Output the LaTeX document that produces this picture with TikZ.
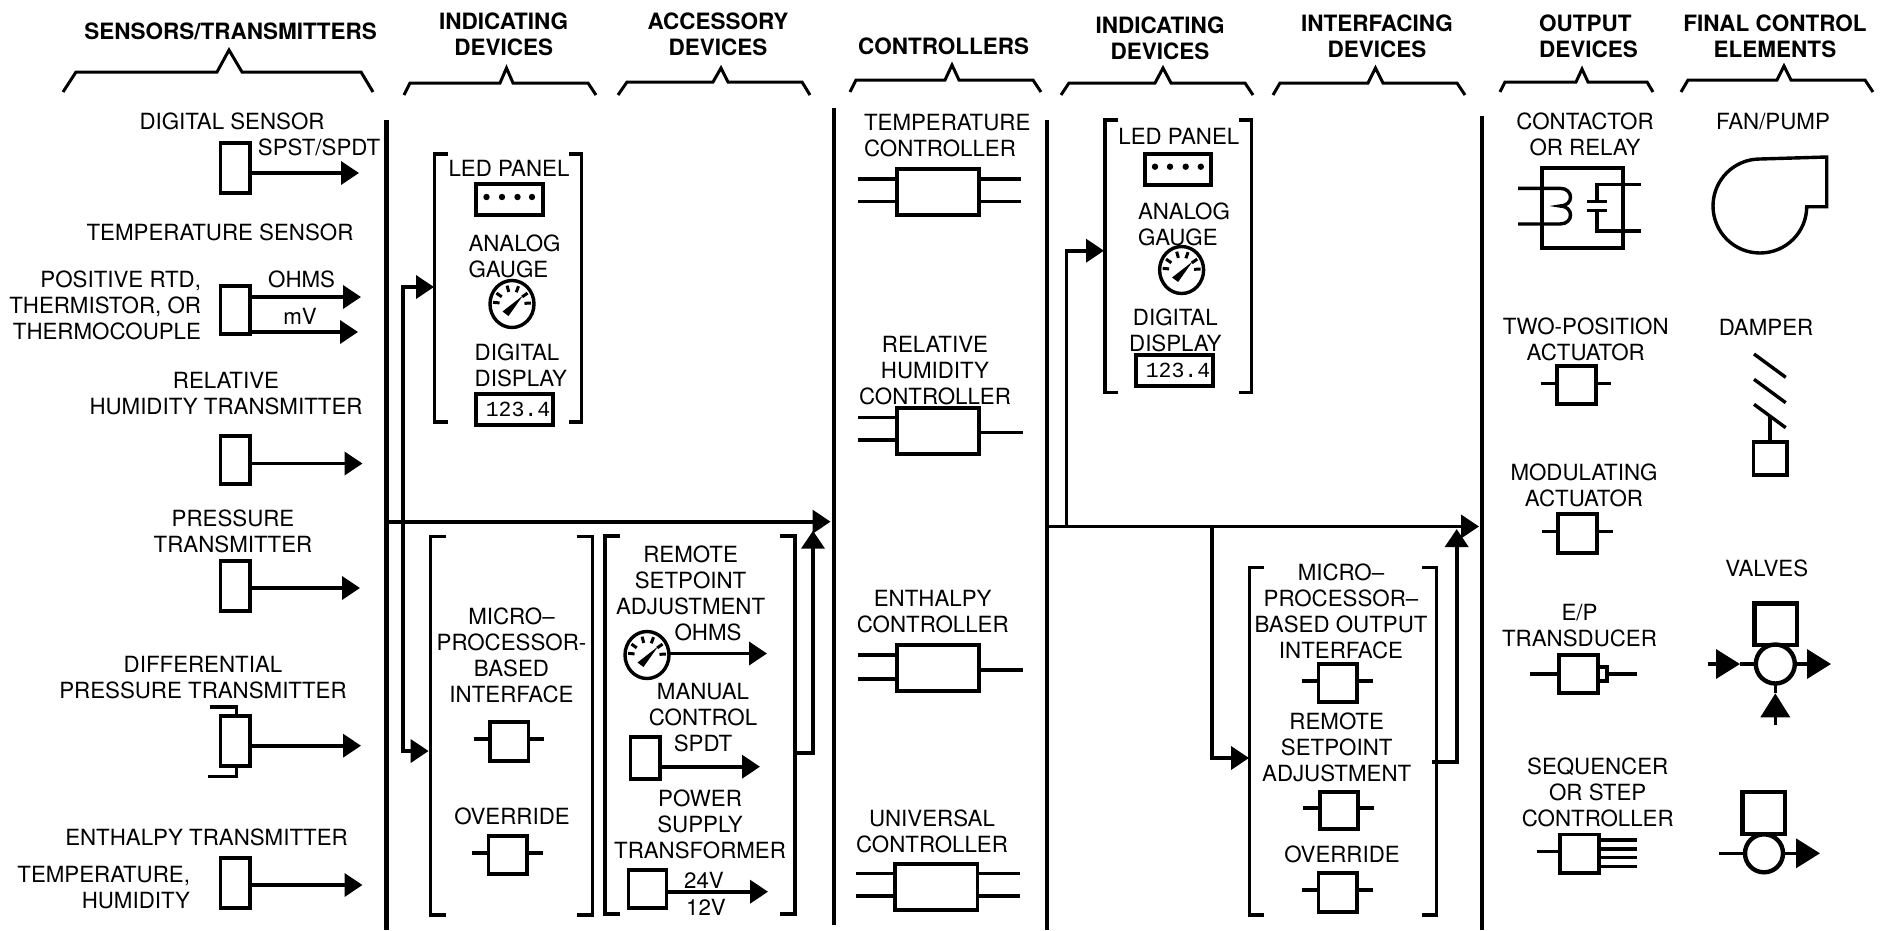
\documentclass[tikz,border=0pt]{standalone}
\usepackage{fontspec}
\setmainfont{TeX Gyre Heros}
\newfontfamily\monof{Liberation Mono}
\usetikzlibrary{arrows.meta,calc,shapes.geometric}
\newcounter{ends}
\tikzset{
  lab/.style={inner sep=0pt,outer sep=0pt,align=center,yshift=-1pt,font=\fontsize{22.3}{26}\selectfont},
  labl/.style={lab,align=left,anchor=west},
  labr/.style={lab,align=right,anchor=east},
  head/.style={inner sep=0pt,outer sep=0pt,align=center,font=\fontsize{22.5}{26}\selectfont\bfseries},
  bx/.style={draw,line width=3.6pt,inner sep=0pt,outer sep=0pt,fill=white,rectangle},
  wire/.style={line width=3.4pt},
  flow/.style={line width=3.8pt,-{Triangle[length=18pt,width=23pt]}},
  bigflow/.style={line width=3.6pt,-{Triangle[length=24pt,width=29pt]}},
  busline/.style={line width=4.4pt,line join=miter},
  brk/.style={line width=3.2pt,line join=miter},
  brace/.style={line width=3pt,line join=miter},
  ring/.style={draw,circle,line width=4.4pt,inner sep=0pt,outer sep=0pt,fill=white},
  gaugec/.style={draw,ellipse,line width=3.4pt,inner sep=0pt,outer sep=0pt,minimum width=44pt,minimum height=47pt}
}
\newcommand\freept[2]{\stepcounter{ends}\coordinate (e\theends) at (#1,#2);}
\newcommand\bxn[6][]{\node[bx,minimum width={(#5-#3)*1pt},minimum height={(#6-#4)*1pt},#1] (#2) at ({(#3+#5)/2},{(#4+#6)/2}) {};}
\newcommand\wirew[3]{\freept{#2}{#3}\draw[wire] (e\theends) -- (e\theends -| #1.west);}
\newcommand\wiree[3]{\freept{#2}{#3}\draw[wire] (e\theends -| #1.east) -- (e\theends);}
\newcommand\arre[3]{\freept{#2}{#3}\draw[flow] (e\theends -| #1.east) -- (e\theends);}
\newcommand\act[8]{\bxn{#1}{#2}{#3}{#4}{#5}\wirew{#1}{#6}{#8}\wiree{#1}{#7}{#8}}
\newcommand\gaugeat[3]{\node[gaugec] (#1) at (#2,#3) {};
 \begin{scope}[shift={(#1.center)}]
  \foreach \a in {-175,-145,-105,-70,-35,-3}{\draw[line width=3pt] (\a:12.5) -- (\a:19);}
  \fill (-9.5,7.5) -- (-3.5,12) -- (11,-8.5) -- cycle;
 \end{scope}}
\begin{document}
\begin{tikzpicture}[x=1pt,y=-1pt]
\useasboundingbox (0,0) rectangle (1887,930);

% headers
\node[head] (h1) at (230.6,31.5) {SENSORS/TRANSMITTERS};
\node[head] (h2) at (503.7,34) {INDICATING\\DEVICES};
\node[head] (h3) at (718,34) {ACCESSORY\\DEVICES};
\node[head] (h4) at (943.7,46) {CONTROLLERS};
\node[head] (h5) at (1160,38.5) {INDICATING\\DEVICES};
\node[head] (h6) at (1377,36) {INTERFACING\\DEVICES};
\node[head,align=left,anchor=west] (h7) at (1539,36) {OUTPUT\\DEVICES};
\node[head] (h8) at (1775,36) {FINAL CONTROL\\ELEMENTS};

% braces
\draw[brace] (63,92)--(76,72)--(217,72)--(229,50)--(242,72)--(361,72)--(373,92);
\draw[brace] (404,95)--(410,83)--(500,83)--(506.5,68)--(513,83)--(588,83)--(596,95);
\draw[brace] (618,95)--(627,82)--(713,82)--(721,68)--(728,82)--(802,82)--(810,95);
\draw[brace] (850,92)--(856,80)--(945,80)--(952,65)--(959,80)--(1033,80)--(1041,92);
\draw[brace] (1061,95)--(1069,83)--(1155,83)--(1163,68)--(1171,83)--(1245,83)--(1253,95);
\draw[brace] (1273,95)--(1280,83)--(1368,83)--(1375.5,68)--(1383,83)--(1457,83)--(1465,95);
\draw[brace] (1500,92)--(1505,82)--(1576,82)--(1582,69)--(1588,82)--(1647,82)--(1653,92);
\draw[brace] (1681,92)--(1688,80)--(1777,80)--(1784,66)--(1791,80)--(1865,80)--(1873,92);

% main vertical lines
\coordinate (v1t) at (386.5,120); \coordinate (v1b) at (386.5,930);
\coordinate (v2t) at (834,108);   \coordinate (v2b) at (834,925);
\coordinate (v3t) at (1047,120);  \coordinate (v3b) at (1047,930);
\coordinate (v4t) at (1482,116);  \coordinate (v4b) at (1482,930);
\draw[busline] (v1t)--(v1b);
\draw[busline] (v2t)--(v2b);
\draw[busline] (v3t)--(v3b);
\draw[busline] (v4t)--(v4b);

% sensors column
\node[lab] (t1) at (232,120.7) {DIGITAL SENSOR};
\node[lab] (t2) at (319,146.7) {SPST/SPDT};
\bxn{s1}{220.4}{143}{250}{193}
\arre{s1}{359}{173}
\node[lab] (t3) at (220,231.7) {TEMPERATURE SENSOR};
\node[labr] (t4) at (201,304.5) {POSITIVE RTD,\\THERMISTOR, OR\\THERMOCOUPLE};
\bxn{s2}{220.4}{285.7}{250}{334}
\node[lab] (t5) at (301.6,278) {OHMS};
\arre{s2}{361}{297}
\node[lab] (t6) at (300,315) {mV};
\arre{s2}{358}{332}
\node[lab] (t7) at (226,393) {RELATIVE\\HUMIDITY TRANSMITTER};
\bxn{s3}{220.4}{435.7}{250}{484}
\arre{s3}{362.5}{463.5}
\node[lab] (t8) at (233,530.5) {PRESSURE\\TRANSMITTER};
\bxn{s4}{220.4}{561}{250}{611}
\arre{s4}{360}{588}
\node[lab] (t9) at (203,676.5) {DIFFERENTIAL\\PRESSURE TRANSMITTER};
\bxn{s5}{220.4}{716}{250}{765.7}
\arre{s5}{361}{745.7}
\coordinate (p1) at (210,707); \coordinate (p2) at (208,776.7);
\coordinate (p1k) at (236.7,707); \coordinate (p2k) at (236.7,776.7);
\draw[wire] (p1) -- (p1k) -- (p1k |- s5.north);
\draw[wire] (p2) -- (p2k) -- (p2k |- s5.south);
\node[lab] (t10) at (206.5,836.7) {ENTHALPY TRANSMITTER};
\node[labr] (t11) at (190,887) {TEMPERATURE,\\HUMIDITY};
\bxn{s6}{220.4}{858}{250}{908}
\arre{s6}{362.5}{885}

% bus 1
\coordinate (b1s) at (386.5,521.7); \coordinate (b1e) at (830.6,521.7);
\draw[flow] (b1s) -- (b1e);
\coordinate (b1a) at (403,287); \coordinate (b1b) at (403,751);
\coordinate (g1in) at (434,287); \coordinate (m1in) at (428.6,751);
\draw[flow,line join=miter] (b1a |- b1s) -- (b1a) -- (g1in);
\draw[flow,line join=miter] (b1a |- b1s) -- (b1b) -- (m1in);
\coordinate (a1o) at (795,753); \coordinate (a1k) at (813,753); \coordinate (a1t) at (813,530.7);
\draw[flow,line join=miter] (a1o) -- (a1k) -- (a1t);

% indicating devices 1
\draw[brk] (448,154)--(434.7,154)--(434.7,422)--(448,422);
\draw[brk] (569.4,154)--(581.6,154)--(581.6,422)--(569.4,422);
\node[lab] (t12) at (509,167.7) {LED PANEL};
\bxn{led1}{476}{184}{543}{215}
\foreach \x in {486.5,502,517.5,532}{\fill (\x,197) circle[radius=3.2pt];}
\node[labl] (t13) at (468.6,255) {ANALOG\\GAUGE};
\gaugeat{g1}{512}{304}
\node[labl] (t14) at (474.7,364) {DIGITAL\\DISPLAY};
\node[bx,minimum width=77pt,minimum height=31pt,font=\monof\fontsize{21.5}{26}\selectfont] (d1) at (514.5,409.5) {\hspace{7pt}123.4};

% micro interface bracket
\draw[brk] (445.7,536.7)--(430.6,536.7)--(430.6,915)--(445.7,915);
\draw[brk] (576.7,536.7)--(592.6,536.7)--(592.6,915)--(576.7,915);
\node[lab] (t15) at (511.5,654.5) {MICRO--\\PROCESSOR-\\BASED\\INTERFACE};
\act{m1}{490}{722}{528.6}{761}{473.5}{544}{739}
\node[lab] (t16) at (512,815) {OVERRIDE};
\act{m2}{488.6}{835.7}{527}{874}{472}{543}{853}

% accessory bracket
\draw[brk] (620,536)--(605,536)--(605,914)--(620,914);
\draw[brk] (779.6,536)--(795,536)--(795,914)--(779.6,914);
\node[lab] (t17) at (690.6,579) {REMOTE\\SETPOINT\\ADJUSTMENT};
\node[lab] (t18) at (708,631.7) {OHMS};
\gaugeat{g2}{647}{655}
\coordinate (g2t) at (767,653.5);
\draw[flow] (g2t -| g2.east) -- (g2t);
\node[lab] (t19) at (703,717) {MANUAL\\CONTROL\\SPDT};
\bxn{c1}{630.6}{736.7}{660}{779}
\arre{c1}{760}{766.7}
\node[lab] (t20) at (700,823) {POWER\\SUPPLY\\TRANSFORMER};
\bxn{c2}{628.6}{870}{666.5}{908}
\node[lab] (t21) at (704,879) {24V};
\arre{c2}{768}{891.7}
\node[lab] (t22) at (706,906.7) {12V};

% controllers
\node[labl] (t23) at (864,135) {TEMPERATURE\\CONTROLLER};
\bxn{k1}{896.7}{169}{978.8}{215}
\wirew{k1}{858}{179}\wirew{k1}{858}{201.7}\wiree{k1}{1021}{179}\wiree{k1}{1021}{201.7}
\node[lab] (t24) at (935,369.3) {RELATIVE\\HUMIDITY\\CONTROLLER};
\bxn{k2}{896.7}{408}{978.8}{454}
\wirew{k2}{858}{417.7}\wirew{k2}{858}{440}\wiree{k2}{1023}{432.7}
\node[lab] (t25) at (932.7,611) {ENTHALPY\\CONTROLLER};
\bxn{k3}{896.7}{645}{978.8}{690.7}
\wirew{k3}{858}{655}\wirew{k3}{858}{679}\wiree{k3}{1023}{670}
\node[lab] (t26) at (932,830) {UNIVERSAL\\CONTROLLER};
\bxn{k4}{894.7}{864}{977.6}{910}
\wirew{k4}{856}{873.7}\wirew{k4}{856}{896}\wiree{k4}{1019.6}{873.7}\wiree{k4}{1019.6}{896}

% bus 2
\coordinate (b2s) at (1047,526.5); \coordinate (b2e) at (1479,526.5);
\draw[flow] (b2s) -- (b2e);
\coordinate (b2a) at (1066.5,250.7); \coordinate (g3in) at (1104,250.7);
\draw[flow,line join=miter] (b2a |- b2s) -- (b2a) -- (g3in);
\coordinate (b2c) at (1211.7,758); \coordinate (i1in) at (1249,758);
\draw[flow,line join=miter] (b2c |- b2s) -- (b2c) -- (i1in);
\coordinate (i1o) at (1432,761.7); \coordinate (i1k) at (1456.7,761.7); \coordinate (i1t) at (1456.7,529);
\draw[flow,line join=miter] (i1o) -- (i1k) -- (i1t);

% indicating devices 2
\draw[brk] (1117.6,120)--(1105,120)--(1105,392.7)--(1117.6,392.7);
\draw[brk] (1238.8,120)--(1251.4,120)--(1251.4,392.7)--(1238.8,392.7);
\node[lab] (t27) at (1178.8,135.7) {LED PANEL};
\bxn{led2}{1145}{154}{1211}{185}
\foreach \x in {1155,1170,1185.7,1200.8}{\fill (\x,166.7) circle[radius=3.2pt];}
\node[labl] (t28) at (1138,223.7) {ANALOG\\GAUGE};
\gaugeat{g3}{1181.6}{270}
\node[lab] (t29) at (1175.3,329) {DIGITAL\\DISPLAY};
\node[bx,minimum width=77pt,minimum height=31pt,font=\monof\fontsize{21.5}{26}\selectfont] (d2) at (1174.5,370.5) {\hspace{7pt}123.4};

% interfacing bracket
\draw[brk] (1264,567.7)--(1249.3,567.7)--(1249.3,915)--(1264,915);
\draw[brk] (1421.7,567.7)--(1436.7,567.7)--(1436.7,915)--(1421.7,915);
\node[lab] (t30) at (1341,610) {MICRO--\\PROCESSOR--\\BASED OUTPUT\\INTERFACE};
\act{i1}{1318.3}{664}{1356.7}{702}{1302.3}{1372.7}{681}
\node[lab] (t31) at (1336.7,746.7) {REMOTE\\SETPOINT\\ADJUSTMENT};
\act{i2}{1320}{791.7}{1358}{829}{1303.3}{1374}{808}
\node[lab] (t32) at (1342,853) {OVERRIDE};
\act{i3}{1318.3}{873}{1356.7}{911.7}{1302.3}{1372.7}{890}

% output devices
\node[lab] (t33) at (1585,133.7) {CONTACTOR\\OR RELAY};
\bxn{o1}{1541.7}{167.7}{1623}{248}
\coordinate (cl1) at (1518,188.3); \coordinate (cl2) at (1518,224);
\coordinate (cc1) at (1560,188.3); \coordinate (cc2) at (1560,206); \coordinate (cc3) at (1560,224);
\draw[wire] (cl1) -- (cc1) .. controls (1574,188.3) and (1574,206) .. (cc2) .. controls (1574,206) and (1574,224) .. (cc3) -- (cl2);
\coordinate (cr1) at (1640.7,184.3); \coordinate (cr2) at (1640.7,231);
\coordinate (ck1) at (1597,184.3); \coordinate (ck2) at (1597,231);
\coordinate (pa) at (1597,201.7); \coordinate (pb) at (1597,210.7);
\draw[wire,line join=miter] (cr1) -- (ck1) -- (pa);
\draw[wire,line join=miter] (cr2) -- (ck2) -- (pb);
\draw[wire] (1587,201.7) -- (1606.7,201.7);
\draw[wire] (1587,210.7) -- (1606.7,210.7);
\node[lab] (t34) at (1585.7,338) {TWO-POSITION\\ACTUATOR};
\act{o2}{1556.7}{366}{1595.7}{404}{1540.7}{1611}{383.3}
\node[lab] (t35) at (1584,484) {MODULATING\\ACTUATOR};
\act{o3}{1558}{514}{1597}{553}{1542.3}{1612.7}{531.7}
\node[lab] (t36) at (1579.5,624.7) {E/P\\TRANSDUCER};
\bxn{o4}{1559}{655}{1598}{693}
\bxn{o4b}{1598}{666.7}{1607}{681}
\wirew{o4}{1530}{674}\wiree{o4b}{1636.7}{674}
\node[lab] (t37) at (1597.7,791) {SEQUENCER\\OR STEP\\CONTROLLER};
\bxn{o5}{1560}{834.3}{1599}{872.7}
\wirew{o5}{1536.7}{851.7}
\wiree{o5}{1637}{840}\wiree{o5}{1637}{849}\wiree{o5}{1637}{857.7}\wiree{o5}{1637}{866.7}

% final control elements
\node[lab] (t38) at (1773,120.7) {FAN/PUMP};
\draw[line width=3.4pt,line join=miter] (1760,159) -- (1826.7,157) -- (1826.7,206.7) -- (1806.7,206.7)
  .. controls (1806.7,232) and (1786,253) .. (1760,253)
  .. controls (1734,253) and (1713,232) .. (1713,206)
  .. controls (1713,180) and (1734,159) .. (1760,159) -- cycle;
\node[lab] (t39) at (1766,326.7) {DAMPER};
\draw[wire] (1754,354) -- (1785.7,377.3);
\draw[wire] (1754,379.3) -- (1785.7,402.7);
\draw[wire] (1754,404.3) -- (1785.7,427.7);
\bxn{f1}{1753.3}{441.7}{1786.7}{475}
\coordinate (st) at (1770,416);
\draw[wire] (st) -- (st |- f1.north);

\node[lab] (t40) at (1766.7,567.7) {VALVES};
\bxn[line width=4.4pt]{v1}{1754.3}{603.3}{1796.7}{645}
\node[ring,minimum size=39pt] (r1) at (1775.3,664) {};
\coordinate (vl) at (1707.7,664); \coordinate (vlt) at (1740,664);
\draw[bigflow] (vl) -- (vlt);
\draw[wire] (vlt) -- (r1.west);
\coordinate (vr) at (1831,664);
\draw[bigflow] (r1.east) -- (vr);
\coordinate (vb) at (1775.3,725); \coordinate (vbt) at (1775.3,693.3);
\draw[bigflow] (vb) -- (vbt);
\draw[wire] (vbt) -- (r1.south);
\bxn[line width=4.4pt]{v2}{1742.3}{791.7}{1785}{834}
\node[ring,minimum size=38pt] (r2) at (1764,853.3) {};
\coordinate (wl) at (1719,853.3); \coordinate (wr) at (1820,853.3);
\draw[wire] (wl) -- (r2.west);
\draw[bigflow] (r2.east) -- (wr);
\end{tikzpicture}
\end{document}
